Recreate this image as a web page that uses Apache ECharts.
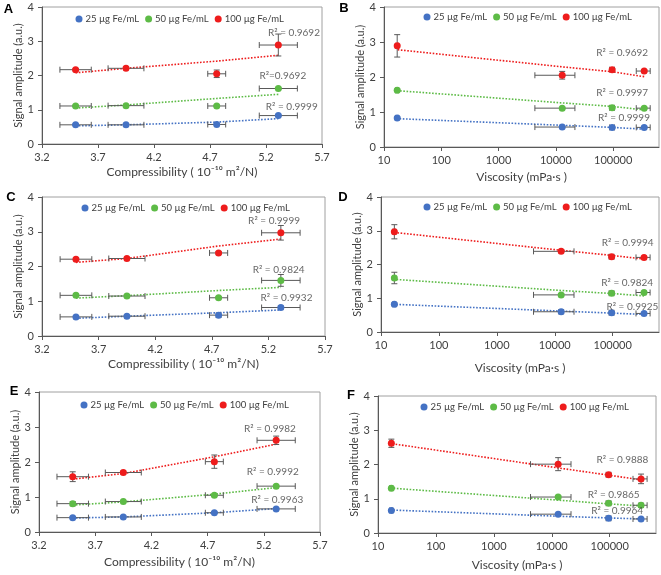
<!DOCTYPE html>
<html><head><meta charset="utf-8">
<script src="https://cdn.jsdelivr.net/npm/echarts@6/dist/echarts.min.js"></script>
<style>html,body{margin:0;padding:0;background:#fff}#c{width:661px;height:575px}</style>
</head><body><div id="c"></div>
<script>
// ---------- DATA ----------
const seriesNames = ['25 µg Fe/mL', '50 µg Fe/mL', '100 µg Fe/mL'];
const compressibility = [3.50, 3.95, 4.76, 5.31];
const compressibilityErr = [0.14, 0.16, 0.08, 0.17];
const viscosity = [348000, 96000, 12900, 17];
const viscosityErr = [95000, 9000, 8600, 1];
const compTicks = [3.2, 3.7, 4.2, 4.7, 5.2, 5.7];
const viscTicks = [10, 100, 1000, 10000, 100000];
const ampTicks = [0, 1, 2, 3, 4];

// sample set 1 (panels A, B)
const amp1_25 = [0.56, 0.56, 0.57, 0.83];
const amp1_50 = [1.11, 1.12, 1.11, 1.62];
const amp1_100 = [2.17, 2.21, 2.05, 2.89];
const err1_25 = [0.02, 0.02, 0.02, 0.02];
const err1_50 = [0.02, 0.02, 0.02, 0.03];
const err1_100 = [0.03, 0.03, 0.11, 0.32];
// sample set 2 (panels C, D)
const amp2_25 = [0.55, 0.57, 0.60, 0.82];
const amp2_50 = [1.17, 1.15, 1.10, 1.60];
const amp2_100 = [2.21, 2.23, 2.39, 2.97];
const err2_25 = [0.02, 0.02, 0.06, 0.04];
const err2_50 = [0.03, 0.03, 0.03, 0.17];
const err2_100 = [0.03, 0.03, 0.04, 0.21];
// sample set 3 (panels E, F)
const amp3_25 = [0.41, 0.43, 0.55, 0.66];
const amp3_50 = [0.81, 0.87, 1.05, 1.31];
const amp3_100 = [1.58, 1.70, 2.01, 2.62];
const err3_25 = [0.02, 0.02, 0.02, 0.02];
const err3_50 = [0.06, 0.03, 0.03, 0.02];
const err3_100 = [0.14, 0.04, 0.19, 0.12];

// trendlines read at each sample
const trendA_25 = [0.53, 0.56, 0.64, 0.74];
const trendA_50 = [1.05, 1.14, 1.33, 1.45];
const trendA_100 = [2.08, 2.21, 2.42, 2.59];
const trendB_25 = [0.51, 0.56, 0.62, 0.81];
const trendB_50 = [1.06, 1.16, 1.26, 1.61];
const trendB_100 = [2.01, 2.15, 2.29, 2.78];
const trendC_25 = [0.51, 0.57, 0.67, 0.75];
const trendC_50 = [1.09, 1.16, 1.31, 1.40];
const trendC_100 = [2.12, 2.23, 2.59, 2.79];
const trendD_25 = [0.52, 0.56, 0.62, 0.82];
const trendD_50 = [1.07, 1.14, 1.23, 1.56];
const trendD_100 = [2.16, 2.27, 2.42, 2.95];
const trendE_25 = [0.40, 0.43, 0.55, 0.67];
const trendE_50 = [0.77, 0.86, 1.08, 1.27];
const trendE_100 = [1.51, 1.67, 2.15, 2.51];
const trendF_25 = [0.41, 0.44, 0.49, 0.67];
const trendF_50 = [0.79, 0.85, 0.96, 1.31];
const trendF_100 = [1.55, 1.69, 1.90, 2.61];

// R² texts [25, 50, 100]
const r2A = ['R² = 0.9999', 'R²=0.9692', 'R² = 0.9692'];
const r2B = ['R² = 0.9999', 'R² = 0.9997', 'R² = 0.9692'];
const r2C = ['R² = 0.9932', 'R² = 0.9824', 'R² = 0.9999'];
const r2D = ['R² = 0.9925', 'R² = 0.9824', 'R² = 0.9994'];
const r2E = ['R² = 0.9963', 'R² = 0.9992', 'R² = 0.9982'];
const r2F = ['R² = 0.9964', 'R² = 0.9865', 'R² = 0.9888'];

// ---------- LAYOUT ----------
const FONT = 'Lato, "Liberation Sans", sans-serif';
const colors = ['#4472C4', '#5DBB46', '#EE1C1C'];
const panels = [
  {letter: 'A', kind: 'comp', grid: {left: 42, top: 7, width: 280, height: 137},
   amp: [amp1_25, amp1_50, amp1_100], err: [err1_25, err1_50, err1_100],
   trend: [trendA_25, trendA_50, trendA_100], r2: r2A,
   r2Pos: [[5.43, 1.08], [5.35, 1.99], [5.45, 3.24]],
   legend: [75.5, 13], letterPos: [8.5, 9], xGap: 22, yGap: 11},
  {letter: 'B', kind: 'visc', grid: {left: 384, top: 7, width: 275, height: 140},
   amp: [amp1_25, amp1_50, amp1_100], err: [err1_25, err1_50, err1_100],
   trend: [trendB_25, trendB_50, trendB_100], r2: r2B,
   r2Pos: [[154500, 0.83], [143600, 1.54], [143600, 2.69]],
   legend: [423.5, 11], letterPos: [344, 8], xGap: 24, yGap: 11},
  {letter: 'C', kind: 'comp', grid: {left: 42, top: 197, width: 283, height: 139},
   amp: [amp2_25, amp2_50, amp2_100], err: [err2_25, err2_50, err2_100],
   trend: [trendC_25, trendC_50, trendC_100], r2: r2C,
   r2Pos: [[5.36, 1.10], [5.29, 1.90], [5.25, 3.33]],
   legend: [81.5, 202], letterPos: [11, 197], xGap: 22, yGap: 15},
  {letter: 'D', kind: 'visc', grid: {left: 381, top: 197, width: 278, height: 135},
   amp: [amp2_25, amp2_50, amp2_100], err: [err2_25, err2_50, err2_100],
   trend: [trendD_25, trendD_50, trendD_100], r2: r2D,
   r2Pos: [[219000, 0.75], [178000, 1.45], [182000, 2.63]],
   legend: [423.5, 201], letterPos: [343, 197], xGap: 30, yGap: 14},
  {letter: 'E', kind: 'comp', grid: {left: 39, top: 392, width: 281, height: 140},
   amp: [amp3_25, amp3_50, amp3_100], err: [err3_25, err3_50, err3_100],
   trend: [trendE_25, trendE_50, trendE_100], r2: r2E,
   r2Pos: [[5.32, 0.91], [5.28, 1.71], [5.255, 2.95]],
   legend: [80.5, 399], letterPos: [14, 391], xGap: 24, yGap: 11},
  {letter: 'F', kind: 'visc', grid: {left: 378, top: 396, width: 278, height: 137},
   amp: [amp3_25, amp3_50, amp3_100], err: [err3_25, err3_50, err3_100],
   trend: [trendF_25, trendF_50, trendF_100], r2: r2F,
   r2Pos: [[135000, 0.65], [117500, 1.11], [166000, 2.13]],
   legend: [420.5, 401], letterPos: [351, 395], xGap: 26, yGap: 13}
];

const axisColor = '#595959';
const textColor = '#404040';
const grids = [], xAxes = [], yAxes = [], legends = [], series = [], graphics = [];

function errRender(params, api) {
  const x = api.value(0), y = api.value(1), xe = api.value(2), ye = api.value(3);
  const st = {stroke: axisColor, lineWidth: 1};
  const ch = [];
  const cap = 3;
  if (xe > 0) {
    const l = api.coord([x - xe, y]), r = api.coord([x + xe, y]);
    ch.push({type: 'line', shape: {x1: l[0], y1: l[1], x2: r[0], y2: r[1]}, style: st});
    ch.push({type: 'line', shape: {x1: l[0], y1: l[1] - cap, x2: l[0], y2: l[1] + cap}, style: st});
    ch.push({type: 'line', shape: {x1: r[0], y1: r[1] - cap, x2: r[0], y2: r[1] + cap}, style: st});
  }
  if (ye > 0) {
    const t = api.coord([x, y + ye]), b = api.coord([x, y - ye]);
    ch.push({type: 'line', shape: {x1: t[0], y1: t[1], x2: b[0], y2: b[1]}, style: st});
    ch.push({type: 'line', shape: {x1: t[0] - cap, y1: t[1], x2: t[0] + cap, y2: t[1]}, style: st});
    ch.push({type: 'line', shape: {x1: b[0] - cap, y1: b[1], x2: b[0] + cap, y2: b[1]}, style: st});
  }
  return {type: 'group', children: ch};
}

panels.forEach((p, i) => {
  const isComp = p.kind === 'comp';
  grids.push(Object.assign({show: true, borderColor: '#a0a0a0', borderWidth: 1, backgroundColor: 'transparent'}, p.grid));
  const xBase = {
    gridIndex: i, nameLocation: 'middle', nameGap: p.xGap,
    nameTextStyle: {color: textColor, fontSize: 12, fontFamily: FONT},
    axisLine: {show: true, onZero: false, lineStyle: {color: axisColor, width: 1}},
    axisTick: {show: true, inside: false, length: 4, lineStyle: {color: axisColor}},
    axisLabel: {color: textColor, fontSize: 11, fontFamily: FONT, margin: 8},
    splitLine: {show: false}
  };
  if (isComp) {
    xAxes.push(Object.assign(xBase, {
      type: 'value', min: compTicks[0], max: compTicks[compTicks.length - 1], interval: 0.5,
      name: 'Compressibility ( 10⁻¹⁰ m²/N)',
      axisLabel: Object.assign(xBase.axisLabel, {formatter: v => v.toFixed(1)})
    }));
  } else {
    xAxes.push(Object.assign(xBase, {
      type: 'log', logBase: 10, min: viscTicks[0], max: Math.pow(10, 5.8),
      name: 'Viscosity (mPa·s )',
      axisTick: Object.assign(xBase.axisTick, {customValues: viscTicks}),
      axisLabel: Object.assign(xBase.axisLabel, {customValues: viscTicks, formatter: v => String(Math.round(v))})
    }));
  }
  yAxes.push({
    gridIndex: i, type: 'value', min: ampTicks[0], max: ampTicks[ampTicks.length - 1], interval: 1,
    name: 'Signal amplitude (a.u.)', nameLocation: 'middle', nameGap: p.yGap,
    nameTextStyle: {color: textColor, fontSize: 11, fontFamily: FONT},
    axisLine: {show: true, lineStyle: {color: axisColor, width: 1}},
    axisTick: {show: true, inside: false, length: 4, lineStyle: {color: axisColor}},
    axisLabel: {color: textColor, fontSize: 11, fontFamily: FONT, margin: 8},
    splitLine: {show: false}
  });
  legends.push({
    data: seriesNames, left: p.legend[0], top: p.legend[1], padding: 0,
    icon: 'circle', itemWidth: 7, itemHeight: 7, itemGap: 6, selectedMode: false,
    textStyle: {color: textColor, fontSize: 9.5, fontFamily: FONT, lineHeight: 12, padding: [0, 0, 0, -2]}
  });
  const xs = isComp ? compressibility : viscosity;
  const xe = isComp ? compressibilityErr : viscosityErr;
  for (let k = 0; k < 3; k++) {
    series.push({
      type: 'line', name: 'trend ' + p.letter + k, xAxisIndex: i, yAxisIndex: i,
      data: xs.map((x, j) => [x, p.trend[k][j]]), showSymbol: false, symbol: 'none', silent: true,
      lineStyle: {color: colors[k], width: 1.6, type: [1.6, 1.6]}, z: 2
    });
  }
  for (let k = 0; k < 3; k++) {
    series.push({
      type: 'custom', name: 'err ' + p.letter + k, xAxisIndex: i, yAxisIndex: i,
      renderItem: errRender, encode: {x: 0, y: 1}, silent: true, z: 3,
      data: xs.map((x, j) => [x, p.amp[k][j], xe[j], p.err[k][j]])
    });
  }
  for (let k = 0; k < 3; k++) {
    series.push({
      type: 'scatter', name: seriesNames[k], xAxisIndex: i, yAxisIndex: i,
      data: xs.map((x, j) => [x, p.amp[k][j]]), symbol: 'circle', symbolSize: 7,
      itemStyle: {color: colors[k], opacity: 1}, z: 5
    });
  }
  series.push({
    type: 'scatter', name: 'r2 ' + p.letter, xAxisIndex: i, yAxisIndex: i, symbolSize: 0, silent: true, z: 6,
    data: p.r2.map((t, k) => ({value: p.r2Pos[k], name: t})),
    label: {show: true, position: 'inside', formatter: d => d.name, color: textColor, fontSize: 10, fontFamily: FONT}
  });
  graphics.push({type: 'text', x: p.letterPos[0], y: p.letterPos[1],
    style: {text: p.letter, fill: '#000', font: 'bold 13px "Liberation Sans", Arial, sans-serif', textAlign: 'center', textVerticalAlign: 'middle'}});
});

const chart = echarts.init(document.getElementById('c'), null, {renderer: 'canvas'});
chart.setOption({
  animation: false,
  color: colors,
  grid: grids, xAxis: xAxes, yAxis: yAxes, legend: legends, series: series, graphic: graphics
});
</script></body></html>
